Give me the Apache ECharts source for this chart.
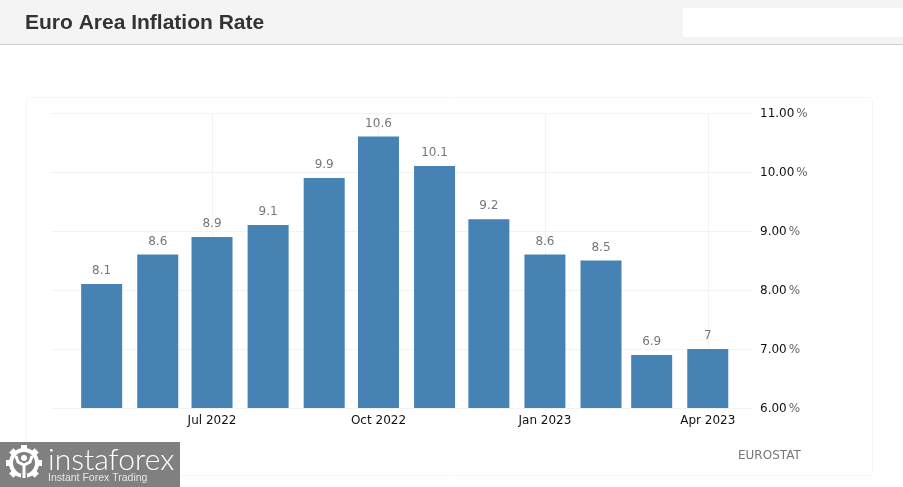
<!DOCTYPE html>
<html>
<head>
<meta charset="utf-8">
<style>
  html, body { margin: 0; padding: 0; background: #fff; }
  #chart { width: 903px; height: 487px; }
</style>
</head>
<body>
<div id="chart"></div>
<script src="https://cdn.jsdelivr.net/npm/echarts@6/dist/echarts.min.js"></script>
<script>
// values
const months = ['2022-05-01', '2022-06-01', '2022-07-01', '2022-08-01', '2022-09-01', '2022-10-01',
  '2022-11-01', '2022-12-01', '2023-01-01', '2023-02-01', '2023-03-01', '2023-04-01'];
const inflation = [8.1, 8.6, 8.9, 9.1, 9.9, 10.6, 10.1, 9.2, 8.6, 8.5, 6.9, 7];
const xTicks = ['2022-07-01', '2022-10-01', '2023-01-01', '2023-04-01'];
const monthNames = ['Jan', 'Feb', 'Mar', 'Apr', 'May', 'Jun', 'Jul', 'Aug', 'Sep', 'Oct', 'Nov', 'Dec'];

const font = '"DejaVu Sans", sans-serif';
const gridColor = '#f3f3f3';
const xTickValues = xTicks.map(d => Date.parse(d));

const chart = echarts.init(document.getElementById('chart'), null, { renderer: 'canvas' });

// logo gear teeth
const gearTeeth = [0, 45, 90, 135, 180, 225, 270, 315].map(deg => ({
  type: 'rect',
  x: 24, y: 463,
  originX: 0, originY: 0,
  rotation: deg * Math.PI / 180,
  shape: { x: -3, y: -18, width: 6, height: 6 },
  style: { fill: '#fff' },
  z: 11
}));

chart.setOption({
  animation: false,
  backgroundColor: '#fff',
  title: [
    {
      text: 'Euro Area Inflation Rate',
      left: 20, top: 8,
      textStyle: { fontFamily: '"Liberation Sans", Arial, sans-serif', fontSize: 21, fontWeight: 'bold', color: '#333' }
    },
    {
      text: 'EUROSTAT',
      left: 733, top: 445,
      textStyle: { fontFamily: font, fontSize: 12, fontWeight: 'normal', color: '#777' }
    }
  ],
  grid: { left: 51, right: 150, top: 113, bottom: 79 },
  xAxis: {
    // months are not evenly spaced in the source chart, so x is real time
    type: 'value',
    min: Date.parse('2022-04-03'),
    max: Date.parse('2023-04-26'),
    axisLine: { show: false },
    axisTick: { show: true, length: 4, customValues: xTickValues, lineStyle: { color: gridColor } },
    axisLabel: {
      customValues: xTickValues,
      margin: 7,
      fontFamily: font, fontSize: 12, color: '#111',
      hideOverlap: false,
      formatter: v => {
        const d = new Date(v);
        return monthNames[d.getUTCMonth()] + ' ' + d.getUTCFullYear();
      }
    },
    splitLine: { show: true, lineStyle: { color: gridColor, width: 1 } }
  },
  yAxis: {
    type: 'value',
    position: 'right',
    min: 6, max: 11, interval: 1,
    axisLine: { show: false },
    axisTick: { show: false },
    axisLabel: {
      margin: 7,
      padding: [2, 0, 0, 0],
      formatter: v => '{n|' + v.toFixed(2) + '}{p|%}',
      rich: {
        n: { fontFamily: font, fontSize: 12, color: '#111' },
        p: { fontFamily: font, fontSize: 12, color: '#666', padding: [0, 0, 0, 2] }
      }
    },
    splitLine: { show: true, lineStyle: { color: gridColor, width: 1 } }
  },
  series: [{
    type: 'bar',
    barWidth: 41,
    data: months.map((m, i) => [Date.parse(m), inflation[i]]),
    itemStyle: { color: '#4682b4' },
    label: {
      show: true, position: 'top', distance: 7,
      fontFamily: font, fontSize: 12, color: '#777',
      formatter: p => String(p.value[1])
    }
  }],
  graphic: [
    // header band, search box, panel outline
    { type: 'rect', shape: { x: 0, y: 0, width: 903, height: 44 }, style: { fill: '#f4f4f4' }, z: -3 },
    { type: 'rect', shape: { x: 0, y: 44, width: 903, height: 1 }, style: { fill: '#cfcfcf' }, z: -3 },
    { type: 'rect', shape: { x: 683, y: 8, width: 220, height: 29 }, style: { fill: '#fff' }, z: -2 },
    { type: 'rect', shape: { x: 26.5, y: 97.5, width: 846, height: 378, r: 3 }, style: { fill: 'none', stroke: '#f6f6f6' }, z: -2 },
    // logo
    { type: 'rect', shape: { x: 0, y: 442, width: 180, height: 45 }, style: { fill: '#808080' }, z: 10 },
    { type: 'circle', shape: { cx: 24, cy: 463, r: 13 }, style: { fill: 'none', stroke: '#fff', lineWidth: 4 }, z: 11 },
    ...gearTeeth,
    { type: 'rect', shape: { x: 21, y: 474, width: 6, height: 8 }, style: { fill: '#808080' }, z: 12 },
    { type: 'polyline', shape: { points: [[16, 456], [18, 462], [24, 465], [30, 462], [32, 456]] }, style: { fill: 'none', stroke: '#fff', lineWidth: 3 }, z: 11 },
    { type: 'rect', shape: { x: 22.5, y: 464, width: 3, height: 14 }, style: { fill: '#fff' }, z: 12 },
    { type: 'circle', shape: { cx: 24, cy: 458, r: 3 }, style: { fill: '#fff' }, z: 11 },
    {
      type: 'text', x: 48, y: 445,
      style: { text: 'instaforex', fill: '#fff', font: '300 30px Lato, "Open Sans", sans-serif' },
      z: 11
    },
    {
      type: 'text', x: 48, y: 473,
      style: { text: 'Instant Forex Trading', fill: '#e6e6e6', font: '10.5px "Liberation Sans", Arial, sans-serif' },
      z: 11
    }
  ]
});

window.addEventListener('resize', () => chart.resize());
</script>
</body>
</html>
